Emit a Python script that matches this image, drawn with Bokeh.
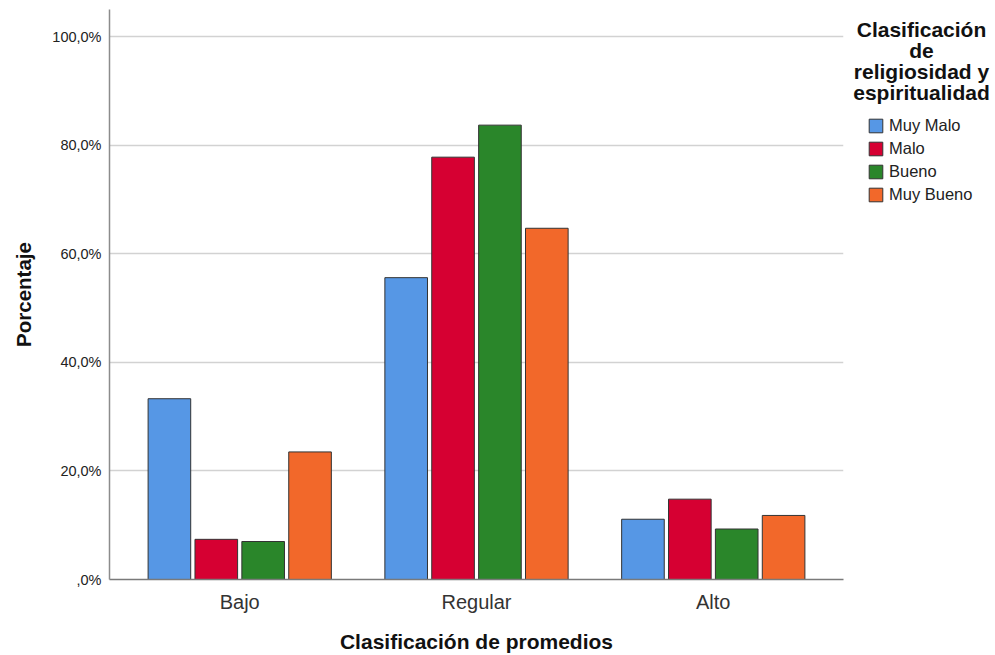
from bokeh.plotting import figure
from bokeh.layouts import row
from bokeh.models import ColumnDataSource, FactorRange, Legend, LegendItem, Label, FixedTicker
from bokeh.transform import dodge
from bokeh.embed import file_html
from bokeh.resources import INLINE

categories = ["Bajo", "Regular", "Alto"]
series = ["Muy Malo", "Malo", "Bueno", "Muy Bueno"]
muy_malo = [33.3, 55.6, 11.1]
malo = [7.4, 77.8, 14.8]
bueno = [7.0, 83.7, 9.3]
muy_bueno = [23.5, 64.7, 11.8]
colors = ["#5697e5", "#d60032", "#2a862a", "#f2682a"]
y_ticks = [0, 20, 40, 60, 80, 100]
y_tick_labels = [",0%", "20,0%", "40,0%", "60,0%", "80,0%", "100,0%"]
legend_title = ["Clasificación", "de", "religiosidad y", "espiritualidad"]
x_title = "Clasificación de promedios"
y_title = "Porcentaje"

FONT = "Liberation Sans"
H = 655
FRAME_BOTTOM = 580  # page px of the plot frame's bottom edge

source = ColumnDataSource(dict(cat=categories, s0=muy_malo, s1=malo, s2=bueno, s3=muy_bueno))

p = figure(x_range=FactorRange(factors=categories, range_padding=0.1 / 3),
           y_range=(0, 105),
           width=844, height=H,
           min_border_left=109, min_border_top=9, min_border_right=1, min_border_bottom=75,
           output_backend="svg", toolbar_location=None)

offsets = [-0.297, -0.099, 0.099, 0.297]
for i, col in enumerate(colors):
    p.vbar(x=dodge("cat", offsets[i], range=p.x_range), top="s%d" % i, width=0.18,
           source=source, fill_color=col, line_color="#333333", line_width=1)

p.yaxis.ticker = FixedTicker(ticks=y_ticks)
p.yaxis.major_label_overrides = {t: l for t, l in zip(y_ticks, y_tick_labels)}
p.yaxis.major_label_text_font = FONT
p.yaxis.major_label_text_font_size = "14.5px"
p.yaxis.major_label_text_color = "#222222"
p.yaxis.major_label_standoff = 8
p.yaxis.major_tick_out = 0
p.yaxis.major_tick_in = 0
p.yaxis.major_tick_line_color = None
p.yaxis.minor_tick_line_color = None
p.yaxis.axis_line_color = "#8c8c8c"
p.yaxis.axis_line_width = 1.5
p.yaxis.axis_label = y_title
p.yaxis.axis_label_text_font = FONT
p.yaxis.axis_label_text_font_size = "20.5px"
p.yaxis.axis_label_text_font_style = "bold"
p.yaxis.axis_label_text_color = "#111111"
p.yaxis.axis_label_standoff = 14

p.xaxis.major_label_text_font = FONT
p.xaxis.major_label_text_font_size = "20px"
p.xaxis.major_label_text_color = "#333333"
p.xaxis.major_label_standoff = 11
p.xaxis.major_tick_out = 0
p.xaxis.major_tick_in = 0
p.xaxis.major_tick_line_color = None
p.xaxis.minor_tick_line_color = None
p.xaxis.axis_line_color = "#7a7a7a"
p.xaxis.axis_line_width = 1.5
p.xaxis.axis_label = x_title
p.xaxis.axis_label_text_font = FONT
p.xaxis.axis_label_text_font_size = "21px"
p.xaxis.axis_label_text_font_style = "bold"
p.xaxis.axis_label_text_color = "#111111"
p.xaxis.axis_label_standoff = 14

p.xgrid.grid_line_color = None
p.ygrid.grid_line_color = "#d2d2d2"
p.ygrid.grid_line_width = 1.5
p.outline_line_color = None

# legend panel (its frame is aligned with the main plot's frame)
q = figure(width=995 - 844, height=H,
           x_range=FactorRange(factors=categories), y_range=(-2000, -1990),
           x_axis_location=None, y_axis_location=None,
           min_border=0, output_backend="svg", toolbar_location=None)
q.grid.grid_line_color = None
q.outline_line_color = None

items = []
for i, (name, col) in enumerate(zip(series, colors)):
    # proxy renderers for the legend swatches, placed far outside this panel's view
    r = q.vbar(x=dodge("cat", 20, range=q.x_range), top="s%d" % i, width=0.18, source=source,
               fill_color=col, line_color="#333333", line_width=1)
    items.append(LegendItem(label=name, renderers=[r]))

legend = Legend(items=items, location=(23, FRAME_BOTTOM - 205), orientation="vertical",
                glyph_width=17, glyph_height=17, label_height=17, spacing=4,
                label_standoff=5, padding=0, margin=0,
                border_line_color=None, background_fill_alpha=0,
                label_text_font=FONT, label_text_font_size="16.5px", label_text_color="#222222")
q.add_layout(legend, "center")

baselines = [36.7, 57.6, 78.6, 99.8]
for line, b in zip(legend_title, baselines):
    q.add_layout(Label(x=77, y=FRAME_BOTTOM - b + 7, x_units="screen", y_units="screen",
                       text=line, text_align="center", text_baseline="alphabetic",
                       text_font=FONT, text_font_size="21px", text_font_style="bold",
                       text_color="#111111"))

open("out.html", "w").write(file_html(row(p, q), INLINE))
